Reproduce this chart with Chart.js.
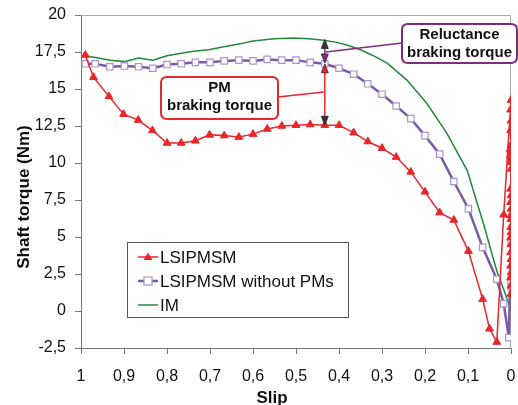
<!DOCTYPE html>
<html>
<head>
<meta charset="utf-8">
<script src="https://cdn.jsdelivr.net/npm/chart.js@4.4.0/dist/chart.umd.min.js"></script>
<style>
html, body { margin: 0; padding: 0; background: #fff; }
#wrap { width: 518px; height: 405px; }
</style>
</head>
<body>
<div id="wrap"><canvas id="torqueChart" width="518" height="405"></canvas></div>
<script>
// slip (x) and shaft torque in Nm (y)
const lsipSlip = [0.99, 0.971, 0.935, 0.901, 0.867, 0.834, 0.8, 0.767, 0.734, 0.701, 0.667, 0.633, 0.6, 0.567, 0.533, 0.5, 0.467, 0.433, 0.4, 0.366, 0.333, 0.3, 0.267, 0.233, 0.2, 0.166, 0.133, 0.099, 0.066, 0.05, 0.033, 0.017,
	0.0, 0.001, 0.0, 0.001, 0.0, 0.002, 0.0, 0.002, 0.0, 0.001, 0.0, 0.001, 0.0, 0.001, 0.0, 0.001, 0.0, 0.001, 0.0, 0.001, 0.0, 0.001, 0.0, 0.001, 0.0, 0.001, 0.0, 0.0];
const lsipTorque = [17.3, 15.8, 14.5, 13.3, 12.9, 12.2, 11.35, 11.35, 11.5, 11.9, 11.85, 11.75, 11.95, 12.3, 12.5, 12.55, 12.6, 12.55, 12.55, 12.05, 11.45, 11.0, 10.4, 9.4, 8.05, 6.65, 6.15, 4.05, 0.8, -1.2, -2.1, 6.5,
	14.25, 13.6, 12.85, 12.2, 11.2, 10.95, 10.75, 10.5, 10.3, 10.05, 9.6, 8.25, 7.8, 7.35, 6.9, 6.45, 6.2, 5.65, 5.3, 4.95, 4.5, 3.95, 3.5, 3.05, 2.6, 2.25, 1.7, 1.15];

const noPmSlip = [0.99, 0.967, 0.933, 0.899, 0.866, 0.833, 0.8, 0.767, 0.734, 0.7, 0.667, 0.633, 0.6, 0.567, 0.533, 0.5, 0.467, 0.433, 0.4, 0.366, 0.333, 0.3, 0.267, 0.233, 0.2, 0.166, 0.133, 0.099, 0.066, 0.033, 0.017, 0.005, 0.0, 0.0, 0.0];
const noPmTorque = [16.7, 16.7, 16.5, 16.55, 16.5, 16.4, 16.65, 16.7, 16.8, 16.8, 16.9, 16.95, 16.9, 17.0, 16.95, 16.95, 16.8, 16.7, 16.4, 16.0, 15.35, 14.65, 13.85, 13.0, 11.85, 10.6, 8.75, 6.9, 4.3, 2.15, 0.5, -1.8, 4.7, 2.1, 1.65];

const imSlip = [0.99, 0.96, 0.932, 0.9, 0.866, 0.833, 0.8, 0.77, 0.738, 0.703, 0.668, 0.63, 0.6, 0.55, 0.506, 0.47, 0.436, 0.405, 0.38, 0.35, 0.32, 0.288, 0.242, 0.195, 0.149, 0.102, 0.064, 0.033, 0.015, 0.0];
const imTorque = [17.25, 17.1, 16.95, 16.85, 17.1, 16.95, 17.25, 17.4, 17.55, 17.65, 17.85, 18.05, 18.25, 18.4, 18.45, 18.4, 18.3, 18.15, 17.95, 17.65, 17.25, 16.75, 15.6, 14.0, 12.0, 9.5, 5.9, 2.7, 1.3, 0.05];

const seriesNames = ["LSIPMSM", "LSIPMSM without PMs", "IM"];
const slipTicks = [1, 0.9, 0.8, 0.7, 0.6, 0.5, 0.4, 0.3, 0.2, 0.1, 0];
const torqueTicks = [-2.5, 0, 2.5, 5, 7.5, 10, 12.5, 15, 17.5, 20];

// annotation arrows: slip where they sit, and torque levels they span
const arrowSlip = 0.433;
const pmArrow = [12.55, 16.7];
const relArrow = [16.75, 18.35];

const FONT = '"Liberation Sans", Arial, sans-serif';
const RED = "#e8262b";
const PURPLE = "#7a5ba6";
const SQUARE = "#a596cc";
const GREEN = "#21893a";
const BOXPURPLE = "#7b2d7e";
const AXIS = "#777";

function toPoints(xs, ys) {
	return xs.map(function (x, i) { return { x: x, y: ys[i] }; });
}

function fmt(v) {
	return String(Math.round(v * 10) / 10).replace(".", ",");
}

function roundRect(ctx, x, y, w, h, r) {
	ctx.beginPath();
	ctx.moveTo(x + r, y);
	ctx.lineTo(x + w - r, y);
	ctx.quadraticCurveTo(x + w, y, x + w, y + r);
	ctx.lineTo(x + w, y + h - r);
	ctx.quadraticCurveTo(x + w, y + h, x + w - r, y + h);
	ctx.lineTo(x + r, y + h);
	ctx.quadraticCurveTo(x, y + h, x, y + h - r);
	ctx.lineTo(x, y + r);
	ctx.quadraticCurveTo(x, y, x + r, y);
	ctx.closePath();
}

function arrowHead(ctx, x, y, dir, fill) {
	// dir = -1 tip points up, 1 tip points down
	ctx.beginPath();
	ctx.moveTo(x, y);
	ctx.lineTo(x - 3.5, y - dir * 9);
	ctx.lineTo(x + 3.5, y - dir * 9);
	ctx.closePath();
	ctx.fillStyle = fill;
	ctx.fill();
	ctx.strokeStyle = "#222";
	ctx.lineWidth = 0.8;
	ctx.stroke();
}

const frame = {
	id: "frame",
	beforeDatasetsDraw(chart) {
		const a = chart.chartArea, ctx = chart.ctx;
		ctx.save();
		ctx.strokeStyle = "#aaa";
		ctx.lineWidth = 1;
		ctx.beginPath();
		ctx.moveTo(a.left, a.top + 0.5);
		ctx.lineTo(a.right - 0.5, a.top + 0.5);
		ctx.lineTo(a.right - 0.5, a.bottom);
		ctx.stroke();
		ctx.restore();
	}
};

const annotations = {
	id: "annotations",
	afterDatasetsDraw(chart) {
		const ctx = chart.ctx;
		const sx = chart.scales.x, sy = chart.scales.y;
		const ax = sx.getPixelForValue(arrowSlip);
		ctx.save();

		// PM braking torque arrow
		const p0 = sy.getPixelForValue(pmArrow[0]), p1 = sy.getPixelForValue(pmArrow[1]);
		ctx.strokeStyle = RED;
		ctx.lineWidth = 1.5;
		ctx.beginPath();
		ctx.moveTo(ax, p0 - 6);
		ctx.lineTo(ax, p1 + 6);
		ctx.stroke();
		arrowHead(ctx, ax, p0, 1, "#333");
		arrowHead(ctx, ax, p1, -1, RED);

		// reluctance braking torque arrow
		const r0 = sy.getPixelForValue(relArrow[0]), r1 = sy.getPixelForValue(relArrow[1]);
		ctx.strokeStyle = BOXPURPLE;
		ctx.lineWidth = 1.5;
		ctx.beginPath();
		ctx.moveTo(ax, r0 - 6);
		ctx.lineTo(ax, r1 + 6);
		ctx.stroke();
		arrowHead(ctx, ax, r0, 1, BOXPURPLE);
		arrowHead(ctx, ax, r1, -1, "#333");

		// connectors
		ctx.lineWidth = 1.5;
		ctx.strokeStyle = RED;
		ctx.beginPath();
		ctx.moveTo(278, 97);
		ctx.lineTo(ax - 1, 92);
		ctx.stroke();
		ctx.strokeStyle = BOXPURPLE;
		ctx.beginPath();
		ctx.moveTo(402, 43);
		ctx.lineTo(ax + 1, 52);
		ctx.stroke();

		// boxes
		ctx.lineWidth = 2;
		roundRect(ctx, 161, 77, 117, 42, 6);
		ctx.fillStyle = "#fff";
		ctx.fill();
		ctx.strokeStyle = RED;
		ctx.stroke();
		roundRect(ctx, 402, 24, 115, 39, 6);
		ctx.fill();
		ctx.strokeStyle = BOXPURPLE;
		ctx.stroke();

		ctx.fillStyle = "#111";
		ctx.font = "bold 15px " + FONT;
		ctx.textAlign = "center";
		ctx.textBaseline = "middle";
		ctx.fillText("PM", 219.5, 88);
		ctx.fillText("braking torque", 219.5, 106);
		ctx.fillText("Reluctance", 459.5, 35);
		ctx.fillText("braking torque", 459.5, 53);

		// legend
		ctx.lineWidth = 1;
		ctx.strokeStyle = "#555";
		ctx.fillStyle = "#fff";
		ctx.fillRect(127, 242, 221, 75);
		ctx.strokeRect(127.5, 242.5, 221, 75);
		const rows = [257, 281, 305];
		chart.data.datasets.forEach(function (ds, i) {
			const yy = rows[i];
			ctx.strokeStyle = ds.borderColor;
			ctx.lineWidth = i === 1 ? 2.5 : 1.5;
			ctx.beginPath();
			ctx.moveTo(138, yy);
			ctx.lineTo(158, yy);
			ctx.stroke();
			if (i === 0) {
				ctx.fillStyle = RED;
				ctx.beginPath();
				ctx.moveTo(148, yy - 4.5);
				ctx.lineTo(152.5, yy + 3);
				ctx.lineTo(143.5, yy + 3);
				ctx.closePath();
				ctx.fill();
			} else if (i === 1) {
				ctx.fillStyle = "#fff";
				ctx.fillRect(144, yy - 4, 8, 8);
				ctx.strokeStyle = SQUARE;
				ctx.lineWidth = 1.2;
				ctx.strokeRect(144, yy - 4, 8, 8);
			}
			ctx.fillStyle = "#111";
			ctx.font = "17px " + FONT;
			ctx.textAlign = "left";
			ctx.textBaseline = "middle";
			ctx.fillText(ds.label, 160, yy + 1);
		});

		// axis titles
		ctx.font = "bold 17px " + FONT;
		ctx.textAlign = "center";
		ctx.fillStyle = "#111";
		ctx.fillText("Slip", 272, 398);
		ctx.translate(24, 197);
		ctx.rotate(-Math.PI / 2);
		ctx.fillText("Shaft torque (Nm)", 0, 0);
		ctx.restore();
	}
};

const ctx = document.getElementById("torqueChart").getContext("2d");
const chart = new Chart(ctx, {
	type: "scatter",
	data: {
		datasets: [
			{
				label: seriesNames[0],
				data: toPoints(lsipSlip, lsipTorque),
				showLine: true,
				borderColor: RED,
				backgroundColor: RED,
				borderWidth: 1.5,
				pointStyle: "triangle",
				pointRadius: 4.5,
				pointBorderWidth: 1,
				order: 1,
			},
			{
				label: seriesNames[1],
				data: toPoints(noPmSlip, noPmTorque),
				showLine: true,
				borderColor: PURPLE,
				backgroundColor: "#fff",
				borderWidth: 2.5,
				pointStyle: "rect",
				pointRadius: 4.5,
				pointBorderColor: SQUARE,
				pointBackgroundColor: "#fff",
				pointBorderWidth: 1.2,
				order: 2,
			},
			{
				label: seriesNames[2],
				data: toPoints(imSlip, imTorque),
				showLine: true,
				borderColor: GREEN,
				backgroundColor: GREEN,
				borderWidth: 1.5,
				pointRadius: 0,
				order: 3,
			},
		],
	},
	options: {
		responsive: false,
		animation: false,
		layout: { padding: { top: 15, right: 7, left: 0, bottom: 0 } },
		plugins: {
			legend: { display: false },
			title: { display: false },
			tooltip: { enabled: false },
		},
		scales: {
			x: {
				type: "linear",
				reverse: true,
				min: 0,
				max: 1,
				afterBuildTicks: function (s) { s.ticks = slipTicks.map(function (v) { return { value: v }; }); },
				afterFit: function (s) {
					s.height = 57;
					s.paddingLeft = 0;
					s.paddingRight = 0;
				},
				ticks: {
					callback: fmt,
					color: "#111",
					font: { family: FONT, size: 16 },
					padding: 13,
					maxRotation: 0,
					autoSkip: false,
				},
				grid: { drawOnChartArea: false, tickLength: 6, color: AXIS },
				border: { color: AXIS, width: 1 },
			},
			y: {
				min: -2.5,
				max: 20,
				afterBuildTicks: function (s) { s.ticks = torqueTicks.map(function (v) { return { value: v }; }); },
				afterFit: function (s) {
					s.width = 81;
					s.paddingTop = 0;
					s.paddingBottom = 0;
				},
				ticks: {
					callback: fmt,
					color: "#111",
					font: { family: FONT, size: 16 },
					padding: 9,
					autoSkip: false,
				},
				grid: { drawOnChartArea: false, tickLength: 6, color: AXIS },
				border: { color: AXIS, width: 1 },
			},
		},
	},
	plugins: [frame, annotations],
});
</script>
</body>
</html>
